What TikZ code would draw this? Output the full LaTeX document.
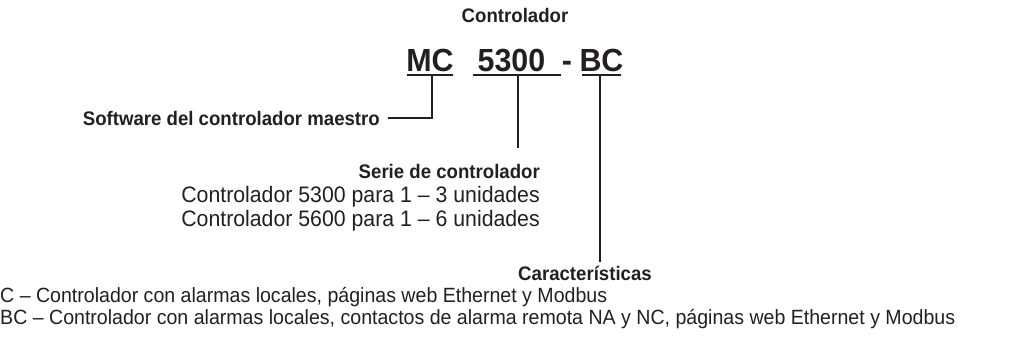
\documentclass[tikz,border=0pt]{standalone}
\usepackage{fontspec}
\setmainfont[FakeStretch=0.95]{Liberation Sans}
\definecolor{ink}{HTML}{231F20}
\begin{document}
\begin{tikzpicture}[x=1pt,y=-1pt,
  reg/.style={font=\fontsize{20.6}{24}\selectfont, inner sep=0pt, text=ink},
  regmid/.style={font=\fontsize{22.4}{26}\selectfont, inner sep=0pt, text=ink},
  hdr/.style={font=\fontsize{19.6}{24}\selectfont\bfseries, inner sep=0pt, text=ink},
  big/.style={font=\fontsize{32}{38}\selectfont\bfseries, inner sep=0pt, text=ink},
  conn/.style={draw=ink, line width=2pt},
  uline/.style={draw=ink, line width=2pt}]
\useasboundingbox (0,0) rectangle (1029,354);

% title
\node[hdr, anchor=base] (title) at (515,22.5) {Controlador};

% model code
\node[big, anchor=base] (mc) at (430,71) {MC};
\node[big, anchor=base] (n5300) at (511.5,71) {5300};
\node[big, anchor=base] (dash) at (567,71) {-};
\node[big, anchor=base] (bc) at (601.5,71) {BC};

% underlines
\coordinate (mcU) at (432,74.5);
\coordinate (nU) at (518,74.5);
\coordinate (bcU) at (600,74.5);
\draw[uline] (407,74.5) -- (mcU) -- (453,74.5);
\draw[uline] (473,74.5) -- (nU) -- (561,74.5);
\draw[uline] (582,74.5) -- (bcU) -- (621,74.5);

% software
\node[hdr, anchor=base east] (soft) at (380,125) {Software del controlador maestro};
\draw[conn] (mcU) |- ([xshift=8pt]soft.east);

% serie
\node[hdr, anchor=base east] (serie) at (540,178) {Serie de controlador};
\node[regmid, anchor=base east] (s1) at (540,202.5) {Controlador 5300 para 1 – 3 unidades};
\node[regmid, anchor=base east] (s2) at (540,226.5) {Controlador 5600 para 1 – 6 unidades};
\coordinate (nEnd) at (518,148);
\draw[conn] (nU) -- (nEnd);

% caracteristicas
\node[hdr, anchor=base] (car) at (585,280) {Características};
\node[reg, anchor=base west] (c1) at (0,302) {C – Controlador con alarmas locales, páginas web Ethernet y Modbus};
\node[reg, anchor=base west] (c2) at (0,324.5) {BC – Controlador con alarmas locales, contactos de alarma remota NA y NC, páginas web Ethernet y Modbus};
\coordinate (bcEnd) at (600,262);
\draw[conn] (bcU) -- (bcEnd);
\end{tikzpicture}
\end{document}
